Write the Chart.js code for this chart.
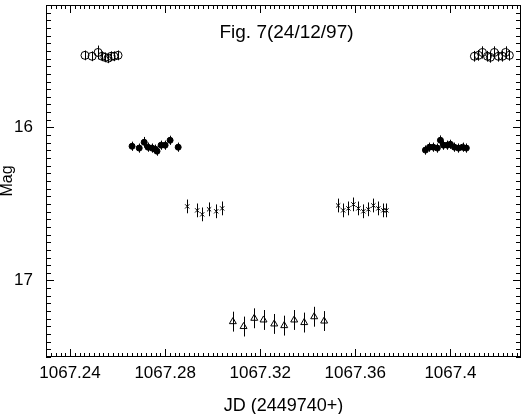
<!DOCTYPE html>
<html>
<head>
<meta charset="utf-8">
<script src="https://cdn.jsdelivr.net/npm/chart.js@4/dist/chart.umd.min.js"></script>
<style>
  body { margin: 0; background: #fff; }
  canvas { display: block; }
</style>
</head>
<body>
<canvas id="grafico" width="528" height="414"></canvas>
<script>
// open circles (maximum light, both sides)
const circJd  = [1067.2463, 1067.2493, 1067.2518, 1067.2535, 1067.2547, 1067.2560, 1067.2573, 1067.2585, 1067.2602,
                 1067.4101, 1067.4118, 1067.4135, 1067.4156, 1067.4168, 1067.4185, 1067.4202, 1067.4219, 1067.4232, 1067.4248];
const circMag = [15.529, 15.535, 15.510, 15.535, 15.542, 15.548, 15.535, 15.535, 15.529,
                 15.535, 15.529, 15.510, 15.535, 15.542, 15.510, 15.535, 15.535, 15.510, 15.529];
const circErr = [0.032, 0.032, 0.045, 0.032, 0.032, 0.032, 0.032, 0.032, 0.032,
                 0.035, 0.035, 0.040, 0.035, 0.035, 0.040, 0.035, 0.035, 0.040, 0.035];

// filled dots
const dotJd  = [1067.2661, 1067.2691, 1067.2712, 1067.2728, 1067.2745, 1067.2758, 1067.2766, 1067.2783, 1067.2800, 1067.2821, 1067.2855,
                1067.3895, 1067.3912, 1067.3928, 1067.3945, 1067.3958, 1067.3971, 1067.3987, 1067.4000, 1067.4017, 1067.4034, 1067.4051, 1067.4067];
const dotMag = [16.123, 16.135, 16.097, 16.129, 16.135, 16.142, 16.155, 16.116, 16.116, 16.084, 16.129,
                16.148, 16.129, 16.129, 16.135, 16.084, 16.116, 16.116, 16.110, 16.129, 16.135, 16.129, 16.135];
const dotErr = [0.030, 0.030, 0.035, 0.030, 0.030, 0.030, 0.030, 0.030, 0.030, 0.030, 0.030,
                0.030, 0.030, 0.030, 0.030, 0.032, 0.030, 0.030, 0.030, 0.030, 0.030, 0.030, 0.030];

// crosses
const crossJd  = [1067.2893, 1067.2935, 1067.2956, 1067.2985, 1067.3015, 1067.3040,
                  1067.3528, 1067.3549, 1067.3571, 1067.3592, 1067.3613, 1067.3634, 1067.3655, 1067.3676, 1067.3697, 1067.3718, 1067.3731];
const crossMag = [16.516, 16.542, 16.568, 16.535, 16.548, 16.529,
                  16.510, 16.542, 16.529, 16.503, 16.529, 16.548, 16.535, 16.510, 16.529, 16.542, 16.542];
const crossErr = [0.045, 0.045, 0.045, 0.045, 0.045, 0.045,
                  0.045, 0.045, 0.045, 0.045, 0.045, 0.045, 0.045, 0.045, 0.045, 0.045, 0.045];

// open triangles (minimum)
const triJd  = [1067.3085, 1067.3130, 1067.3175, 1067.3214, 1067.3259, 1067.3301, 1067.3343, 1067.3385, 1067.3427, 1067.3469];
const triMag = [17.269, 17.301, 17.247, 17.258, 17.284, 17.295, 17.258, 17.275, 17.237, 17.265];
const triErr = [0.065, 0.065, 0.065, 0.065, 0.065, 0.065, 0.065, 0.065, 0.065, 0.065];

const xTicks = { step: 0.04, minor: 0.002 };
const yTicks = { step: 1, minor: 0.05 };
const titulo = 'Fig. 7(24/12/97)';

function puntos(xs, ys) {
    return xs.map((x, i) => ({ x: x, y: ys[i] }));
}

const fuente = "'Liberation Sans', Arial, sans-serif";

// vertical error bars, drawn with the y scale
const barras = {
    id: 'barras',
    beforeDatasetsDraw(chart) {
        const ctx = chart.ctx;
        const ys = chart.scales.y;
        ctx.save();
        ctx.strokeStyle = '#000';
        ctx.lineWidth = 1;
        chart.data.datasets.forEach((ds, d) => {
            const meta = chart.getDatasetMeta(d);
            meta.data.forEach((el, i) => {
                const v = ds.data[i].y;
                const e = ds.errores[i];
                const x = Math.round(el.x) + 0.5;
                ctx.beginPath();
                ctx.moveTo(x, ys.getPixelForValue(v - e));
                ctx.lineTo(x, ys.getPixelForValue(v + e));
                ctx.stroke();
            });
        });
        ctx.restore();
    }
};

// box with inward ticks on all four sides, plus the title inside
const marco = {
    id: 'marco',
    afterDraw(chart) {
        const ctx = chart.ctx;
        const a = chart.chartArea;
        const xs = chart.scales.x, ys = chart.scales.y;
        ctx.save();
        ctx.strokeStyle = '#000';
        ctx.lineWidth = 1;
        ctx.strokeRect(a.left + 0.5, a.top + 0.5, a.right - a.left - 1, a.bottom - a.top - 1);
        ctx.beginPath();
        const per = Math.round(xTicks.step / xTicks.minor);
        for (let i = Math.ceil(xs.min / xTicks.minor); i * xTicks.minor <= xs.max; i++) {
            const px = Math.round(xs.getPixelForValue(i * xTicks.minor)) + 0.5;
            const len = (i % per === 0) ? 8 : 4;
            ctx.moveTo(px, a.bottom); ctx.lineTo(px, a.bottom - len);
            ctx.moveTo(px, a.top); ctx.lineTo(px, a.top + len);
        }
        const perY = Math.round(yTicks.step / yTicks.minor);
        for (let i = Math.ceil(ys.min / yTicks.minor - 1e-6); i * yTicks.minor <= ys.max + 1e-6; i++) {
            const py = Math.round(ys.getPixelForValue(i * yTicks.minor)) + 0.5;
            const len = (i % perY === 0) ? 8 : 5;
            ctx.moveTo(a.left, py); ctx.lineTo(a.left + len, py);
            ctx.moveTo(a.right, py); ctx.lineTo(a.right - len, py);
        }
        ctx.stroke();

        ctx.fillStyle = '#000';
        ctx.font = '19px ' + fuente;
        ctx.textAlign = 'center';
        ctx.textBaseline = 'middle';
        ctx.fillText(titulo, (a.left + a.right) / 2 + 3, a.top + 28);
        ctx.restore();
    }
};

const ctx = document.getElementById('grafico').getContext('2d');
const chart = new Chart(ctx, {
    type: 'scatter',
    data: {
        datasets: [
            {
                label: 'circ',
                data: puntos(circJd, circMag),
                errores: circErr,
                pointStyle: 'circle',
                pointRadius: 4,
                backgroundColor: 'rgba(0,0,0,0)',
                borderColor: '#000',
                borderWidth: 1
            },
            {
                label: 'dot',
                data: puntos(dotJd, dotMag),
                errores: dotErr,
                pointStyle: 'circle',
                pointRadius: 3,
                backgroundColor: '#000',
                borderColor: '#000',
                borderWidth: 1
            },
            {
                label: 'cross',
                data: puntos(crossJd, crossMag),
                errores: crossErr,
                pointStyle: 'crossRot',
                pointRadius: 3,
                backgroundColor: '#000',
                borderColor: '#000',
                borderWidth: 1
            },
            {
                label: 'tri',
                data: puntos(triJd, triMag),
                errores: triErr,
                pointStyle: 'triangle',
                pointRadius: 4,
                backgroundColor: 'rgba(0,0,0,0)',
                borderColor: '#000',
                borderWidth: 1
            }
        ]
    },
    options: {
        responsive: false,
        animation: false,
        devicePixelRatio: 1,
        layout: { padding: { top: 1, right: 7, left: 0, bottom: 0 } },
        plugins: { legend: { display: false }, tooltip: { enabled: false } },
        scales: {
            x: {
                type: 'linear',
                min: 1067.2299,
                max: 1067.4297,
                grid: { display: false, drawTicks: false },
                border: { display: false },
                ticks: {
                    stepSize: xTicks.step,
                    includeBounds: false,
                    maxRotation: 0,
                    autoSkip: false,
                    padding: 6,
                    color: '#000',
                    font: { family: fuente, size: 17 },
                    callback: v => String(Math.round(v * 100) / 100)
                },
                title: {
                    display: true,
                    text: 'JD (2449740+)',
                    color: '#000',
                    font: { family: fuente, size: 18, lineHeight: 0.9 },
                    padding: { top: 0, bottom: 0 }
                },
                afterFit: s => {
                    s.height = 57;
                    s.paddingLeft = 0;
                    s.paddingRight = 0;
                }
            },
            y: {
                type: 'linear',
                reverse: true,
                min: 15.2,
                max: 17.5,
                grid: { display: false, drawTicks: false },
                border: { display: false },
                ticks: {
                    stepSize: yTicks.step,
                    includeBounds: false,
                    padding: 13,
                    color: '#000',
                    font: { family: fuente, size: 17 },
                    callback: v => String(v)
                },
                title: {
                    display: true,
                    text: 'Mag',
                    color: '#000',
                    font: { family: fuente, size: 16, lineHeight: 1 },
                    padding: { top: 0, bottom: 0 }
                },
                afterFit: s => {
                    s.width = 46;
                    s.paddingTop = 0;
                    s.paddingBottom = 0;
                }
            }
        }
    },
    plugins: [barras, marco]
});
</script>
</body>
</html>
